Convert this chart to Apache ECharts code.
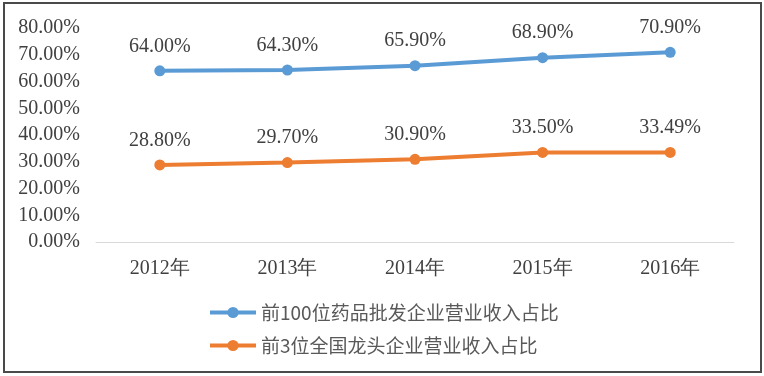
<!DOCTYPE html>
<html>
<head>
<meta charset="utf-8">
<script src="https://cdn.jsdelivr.net/npm/echarts@6/dist/echarts.min.js"></script>
<style>
  html, body { margin: 0; padding: 0; background: #fff; }
  #chart { width: 764px; height: 376px; }
</style>
</head>
<body>
<div id="chart"></div>
<script>
// data
const years = ['2012年', '2013年', '2014年', '2015年', '2016年']
const top100Name = '前100位药品批发企业营业收入占比'
const top100 = [64.0, 64.3, 65.9, 68.9, 70.9]
const top3Name = '前3位全国龙头企业营业收入占比'
const top3 = [28.8, 29.7, 30.9, 33.5, 33.49]

const serif = '"Liberation Serif", "DejaVu Serif", serif'
const cjk = '"Noto Sans CJK SC", sans-serif'

const chart = echarts.init(document.getElementById('chart'))

// shared line style
const makeSeries = (name, data, color) => ({
  name,
  type: 'line',
  data,
  symbol: 'circle',
  symbolSize: 11,
  lineStyle: { width: 4, color },
  itemStyle: { color },
  label: {
    show: true,
    position: 'top',
    distance: 9,
    color: '#404040',
    fontFamily: serif,
    fontSize: 20,
    formatter: (p) => p.value.toFixed(2) + '%'
  },
  animation: false
})

chart.setOption({
  backgroundColor: '#fff',
  graphic: [{
    type: 'rect',
    shape: { x: 4, y: 3, width: 757, height: 369 },
    style: { fill: 'none', stroke: '#4a4a4a', lineWidth: 2 },
    silent: true
  }],
  grid: { left: 96, right: 30, top: 28, bottom: 134 },
  legend: {
    orient: 'vertical',
    left: 203,
    top: 298,
    itemWidth: 46,
    itemHeight: 14,
    itemGap: 14,
    lineStyle: { width: 4 },
    textStyle: { fontFamily: cjk, fontSize: 19, color: '#595959' },
    data: [top100Name, top3Name]
  },
  xAxis: {
    type: 'category',
    data: years,
    boundaryGap: true,
    axisLine: { lineStyle: { color: '#d9d9d9', width: 1 } },
    axisTick: { show: false },
    axisLabel: { color: '#404040', fontFamily: serif, fontSize: 20, margin: 17 }
  },
  yAxis: {
    type: 'value',
    min: 0,
    max: 80,
    interval: 10,
    splitLine: { show: false },
    axisLine: { show: false },
    axisTick: { show: false },
    axisLabel: {
      color: '#404040',
      fontFamily: serif,
      fontSize: 20,
      margin: 16,
      formatter: (v) => v.toFixed(2) + '%'
    }
  },
  series: [
    makeSeries(top100Name, top100, '#5b9bd5'),
    makeSeries(top3Name, top3, '#ed7d31')
  ]
})
</script>
</body>
</html>
